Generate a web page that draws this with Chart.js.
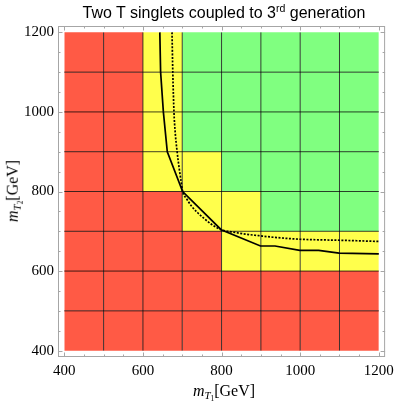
<!DOCTYPE html>
<html>
<head>
<meta charset="utf-8">
<script src="https://cdn.jsdelivr.net/npm/chart.js@4"></script>
<style>
    body { margin: 0; background: #fff; }
    #lienzo { position: relative; width: 399px; height: 403px; }
    .etiqueta { position: absolute; white-space: nowrap; line-height: 1; color: #000; }
    .etiqueta sub { font-size: 0.68em; vertical-align: -0.3em; line-height: 0; }
    .etiqueta sup { font-size: 0.66em; vertical-align: 0.55em; line-height: 0; }
    #titulo { font-family: "Liberation Sans", sans-serif; font-size: 16px; left: 224px; top: 13px; transform: translate(-50%, -50%); }
    #ejeX, #ejeY { font-family: "Liberation Serif", serif; font-size: 16px; }
    #ejeX { left: 224px; top: 391px; transform: translate(-50%, -50%); }
    #ejeY { left: 13px; top: 191px; transform: translate(-50%, -50%) rotate(-90deg); }
</style>
</head>
<body>
<div id="lienzo">
    <canvas id="grafica" width="399" height="403"></canvas>
    <div id="titulo" class="etiqueta">Two T singlets coupled to 3<sup>rd</sup> generation</div>
    <div id="ejeX" class="etiqueta"><i>m</i><sub><i>T</i><sub>1</sub></sub>[GeV]</div>
    <div id="ejeY" class="etiqueta"><i>m</i><sub><i>T</i><sub>2</sub></sub>[GeV]</div>
</div>
<script>
// ===============================
// DATOS
// ===============================
const bordes = [400, 500, 600, 700, 800, 900, 1000, 1100, 1200];

// una fila por franja de m_T2, de abajo (400-500) hacia arriba (1100-1200)
// R = excluido, Y = intermedio, G = permitido
const celdas = [
    "RRRRRRRR",
    "RRRRRRRR",
    "RRRRYYYY",
    "RRRYYGGG",
    "RRYYGGGG",
    "RRYGGGGG",
    "RRYGGGGG",
    "RRYGGGGG"
];

const ticksMayores = [400, 600, 800, 1000, 1200];

const solidaX = [643, 645, 652, 662, 701, 799, 899, 936, 999, 1047, 1099, 1200];
const solidaY = [1200, 1100, 1000, 900, 800, 704, 663, 663, 652, 652, 645, 643];

const punteadaX = [674, 676, 679, 682, 687, 692, 697, 701, 711, 723, 740, 757, 775, 799, 830, 860, 895, 932, 999, 1050, 1100, 1150, 1200];
const punteadaY = [1200, 1100, 1000, 950, 900, 860, 826, 800, 782, 764, 746, 731, 717, 704, 698, 693, 689, 685, 680, 678.5, 677.5, 676, 674.5];

// ===============================
// COLORES
// ===============================
const coloresCelda = {
    "R": "#ff5a45",
    "Y": "#ffff4c",
    "G": "#80ff80"
};

const aPuntos = (xs, ys) => xs.map((x, i) => ({ x: x, y: ys[i] }));

const datasets = [];

// curvas
datasets.push({
    data: aPuntos(solidaX, solidaY),
    borderColor: "#000",
    borderWidth: 1.7,
    pointRadius: 0,
    tension: 0,
    fill: false
});
datasets.push({
    data: aPuntos(punteadaX, punteadaY),
    borderColor: "#000",
    borderWidth: 1.7,
    borderDash: [2, 1.5],
    pointRadius: 0,
    cubicInterpolationMode: "monotone",
    fill: false
});

// líneas entre celdas
bordes.slice(1, -1).forEach(v => {
    datasets.push({
        data: [{ x: v, y: bordes[0] }, { x: v, y: bordes[bordes.length - 1] }],
        borderColor: "rgba(0, 0, 0, 0.75)",
        borderWidth: 1,
        pointRadius: 0,
        fill: false
    });
    datasets.push({
        data: [{ x: bordes[0], y: v }, { x: bordes[bordes.length - 1], y: v }],
        borderColor: "rgba(0, 0, 0, 0.75)",
        borderWidth: 1,
        pointRadius: 0,
        fill: false
    });
});

// celdas
celdas.forEach((fila, r) => {
    [...fila].forEach((c, k) => {
        datasets.push({
            data: [{ x: bordes[k], y: bordes[r + 1] }, { x: bordes[k + 1], y: bordes[r + 1] }],
            fill: { value: bordes[r] },
            backgroundColor: coloresCelda[c],
            borderWidth: 0,
            pointRadius: 0
        });
    });
});

// ===============================
// MARCO CON TICKS HACIA DENTRO
// ===============================
const marco = {
    id: "marco",
    afterDatasetsDraw(chart) {
        const { ctx, chartArea: a, scales: { x, y } } = chart;
        ctx.save();
        ctx.strokeStyle = "#a6a6a6";
        ctx.lineWidth = 1;
        ctx.strokeRect(a.left + 0.5, a.top + 0.5, a.width - 1, a.height - 1);
        ctx.beginPath();
        for (let v = bordes[0]; v <= bordes[bordes.length - 1]; v += 50) {
            const largo = ticksMayores.includes(v) ? 4.5 : 2.5;
            const px = Math.round(x.getPixelForValue(v)) + 0.5;
            const py = Math.round(y.getPixelForValue(v)) + 0.5;
            ctx.moveTo(px, a.bottom); ctx.lineTo(px, a.bottom - largo);
            ctx.moveTo(px, a.top); ctx.lineTo(px, a.top + largo);
            ctx.moveTo(a.left, py); ctx.lineTo(a.left + largo, py);
            ctx.moveTo(a.right, py); ctx.lineTo(a.right - largo, py);
        }
        ctx.stroke();
        ctx.restore();
    }
};

const fuenteTicks = { family: "Liberation Serif", size: 15 };

new Chart(document.getElementById("grafica"), {
    type: "line",
    data: { datasets: datasets },
    options: {
        responsive: false,
        animation: false,
        layout: { padding: { top: 26, right: 10, left: 0, bottom: 0 } },
        plugins: {
            legend: { display: false },
            tooltip: { enabled: false }
        },
        scales: {
            x: {
                type: "linear",
                min: 384,
                max: 1216,
                grid: { display: false, drawTicks: false },
                border: { display: false },
                ticks: { font: fuenteTicks, color: "#000", padding: 5, callback: v => String(v) },
                afterBuildTicks: s => { s.ticks = ticksMayores.map(v => ({ value: v })); },
                afterFit: s => { s.height = 46; }
            },
            y: {
                type: "linear",
                min: 384,
                max: 1216,
                grid: { display: false, drawTicks: false },
                border: { display: false },
                ticks: { font: fuenteTicks, color: "#000", padding: 4, callback: v => String(v) },
                afterBuildTicks: s => { s.ticks = ticksMayores.map(v => ({ value: v })); },
                afterFit: s => { s.width = 58; }
            }
        }
    },
    plugins: [marco]
});
</script>
</body>
</html>
